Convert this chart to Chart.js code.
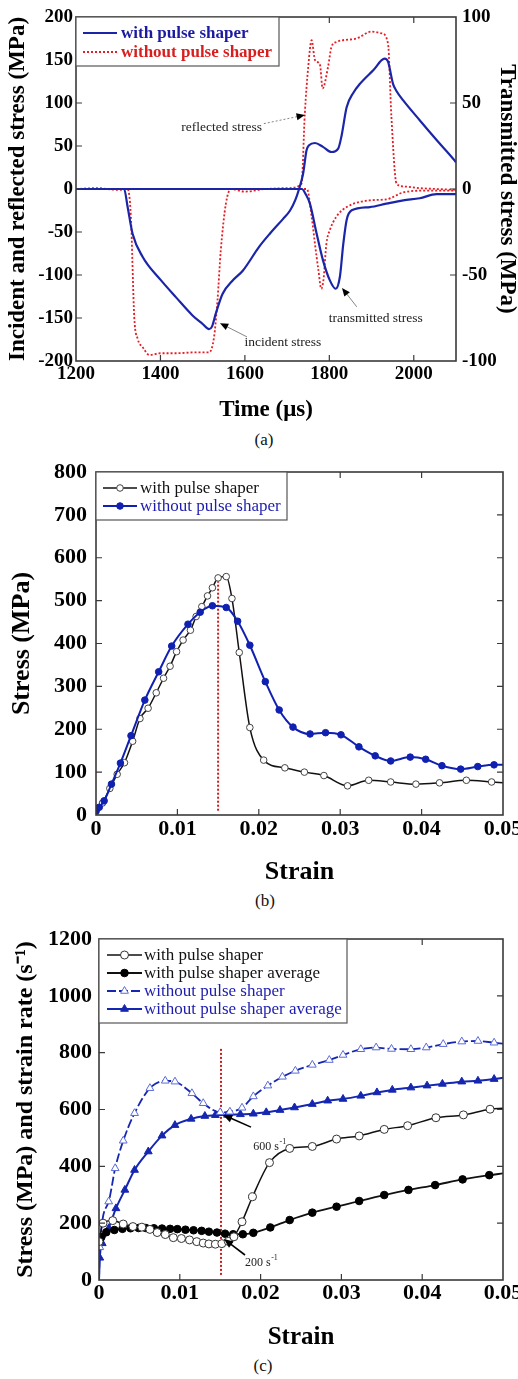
<!DOCTYPE html>
<html lang="en">
<head>
<meta charset="utf-8">
<title>Pulse shaper comparison</title>
<script src="https://cdn.jsdelivr.net/npm/chart.js@4.4.0/dist/chart.umd.min.js"></script>
<style>
  body { margin: 0; background: #fff; width: 518px; height: 1379px; position: relative; overflow: hidden;
         font-family: 'Liberation Serif', 'Times New Roman', serif; }
  .panel { position: absolute; left: 0; }
  .panel canvas { display: block; }
  .caption { position: absolute; width: 40px; line-height: 20px; text-align: center; font-size: 17px; color: #111; }
</style>
</head>
<body>
<div class="panel" style="top:0px"><canvas id="chartA" width="518" height="425"></canvas></div>
<div class="caption" style="left:244px; top:430px">(a)</div>
<div class="panel" style="top:450px"><canvas id="chartB" width="518" height="440"></canvas></div>
<div class="caption" style="left:245px; top:891px">(b)</div>
<div class="panel" style="top:910px"><canvas id="chartC" width="518" height="445"></canvas></div>
<div class="caption" style="left:243px; top:1356px">(c)</div>

<script>
// ---------- (a) stress histories ----------
const timeTicks = [1200, 1400, 1600, 1800, 2000];
const stressTicksA = [-200, -150, -100, -50, 0, 50, 100, 150, 200];
const transTicksA = [-100, -50, 0, 50, 100];

// incident + reflected signal (left axis)
const timeWithInc = [1200, 1314, 1322, 1334, 1358, 1401, 1437, 1476, 1500, 1515, 1522, 1531, 1547, 1570, 1595,
  1634, 1659, 1690, 1707, 1720, 1727, 1738, 1746, 1752, 1766, 1785, 1805, 1821, 1829, 1841, 1857, 1872, 1904,
  1931, 1939, 1951, 1959, 1975, 2014, 2054, 2097, 2100];
const stressWithInc = [0, 0, -20, -52, -79, -106, -126, -147, -157, -163, -160, -145, -122, -107, -95,
  -67, -52, -35, -25, -12, -2, 18, 45, 51, 53.5, 49, 43, 47, 62, 95, 112, 122, 138,
  151.5, 148, 122, 114, 103, 80, 57, 33, 31];
const timeWithoutInc = [1200, 1250, 1300, 1322, 1330, 1338, 1346, 1358, 1374, 1400, 1437, 1480, 1515, 1527, 1535,
  1543, 1555, 1567, 1600, 1650, 1700, 1734, 1742, 1750, 1758, 1766, 1778, 1784, 1797, 1805, 1817, 1864, 1900,
  1924, 1939, 1947, 1959, 1975, 2014, 2054, 2100];
const stressWithoutInc = [0, 1, -1, 0, -32, -149, -174, -184, -193, -191, -191, -190, -190, -172, -130,
  -71, -17, 0, -3, 0, 1, 6, 88, 142, 173, 150, 144, 117, 142, 165, 171, 175, 183,
  181, 169, 84, 6.6, 3, 1, 0, -1];

// transmitted signal (right axis)
const timeWithTrans = [1200, 1735, 1744, 1754, 1770, 1785, 1801, 1815, 1825, 1833, 1841, 1853, 1896, 1935, 1975, 2014, 2054, 2100];
const stressWithTrans = [0, 0, -3, -8.5, -26, -41.5, -53, -58, -51, -32, -18, -12.4, -10.5, -8.5, -6.6, -5.4, -3, -3];
const timeWithoutTrans = [1200, 1747, 1758, 1766, 1774, 1781, 1786, 1793, 1801, 1817, 1841, 1896, 1935, 1975, 2014, 2100];
const stressWithoutTrans = [0, 0, -16, -32, -47, -58, -53, -32, -24, -16, -10.5, -6.6, -6, -2, -1, -1];

// ---------- (b) stress-strain ----------
const strainTicks = [0, 0.01, 0.02, 0.03, 0.04, 0.05];
const stressTicksB = [0, 100, 200, 300, 400, 500, 600, 700, 800];
const strainWithB = [0, 0.0008, 0.0017, 0.0026, 0.0035, 0.0045, 0.0054, 0.0064, 0.0074, 0.0083, 0.0091, 0.0099,
  0.0107, 0.0116, 0.0123, 0.013, 0.0137, 0.0143, 0.015, 0.016, 0.0167, 0.0176, 0.0189, 0.0206, 0.0232, 0.0256,
  0.028, 0.0309, 0.0335, 0.0362, 0.0393, 0.0422, 0.0455, 0.0486, 0.05];
const stressWithB = [8, 28, 62, 95, 122, 172, 225, 249, 285, 319, 347, 381,
  408, 431, 463, 486, 511, 530, 553, 556, 505, 379, 204, 128, 110, 100,
  92, 68, 81, 77, 72, 75, 81, 77, 75];
const strainWithoutB = [0, 0.0004, 0.001, 0.0019, 0.003, 0.0043, 0.006, 0.0077, 0.0093, 0.0113, 0.0128, 0.0143,
  0.016, 0.0174, 0.0189, 0.0208, 0.0225, 0.0242, 0.0263, 0.0282, 0.0301, 0.0323, 0.0343, 0.0362, 0.0386,
  0.0405, 0.0425, 0.0448, 0.0469, 0.0489, 0.05];
const stressWithoutB = [10, 18, 33, 72, 121, 185, 268, 334, 394, 445, 473, 488,
  484, 452, 396, 311, 245, 205, 189, 192, 187, 159, 138, 126, 135,
  130, 115, 107, 113, 117, 117];
const peakStrainB = 0.015;
const peakLineB = [10, 545];

// ---------- (c) stress and strain rate ----------
const valueTicksC = [0, 200, 400, 600, 800, 1000, 1200];
const strainWithC = [0, 0.0005, 0.0017, 0.003, 0.0042, 0.0053, 0.0063, 0.0072, 0.0082, 0.0092, 0.0102, 0.0112,
  0.0121, 0.0129, 0.0136, 0.0144, 0.0152, 0.016, 0.0167, 0.0177, 0.019, 0.0211, 0.0236, 0.0264, 0.0294,
  0.0322, 0.0353, 0.0382, 0.0417, 0.0451, 0.0484, 0.05];
const valueWithC = [135, 200, 209, 197, 188, 186, 178, 167, 160, 149, 146, 141,
  135, 130, 127, 126, 128, 136, 152, 205, 293, 413, 463, 470, 496,
  507, 530, 543, 571, 581, 601, 604];
const strainWithAvgC = [0, 0.0003, 0.0009, 0.0019, 0.0029, 0.0039, 0.0049, 0.0058, 0.0068, 0.0078, 0.0088, 0.0097,
  0.0107, 0.0117, 0.0127, 0.0136, 0.0146, 0.0156, 0.0166, 0.0178, 0.0191, 0.0212, 0.0236, 0.0264, 0.0294,
  0.0322, 0.0353, 0.0383, 0.0416, 0.045, 0.0483, 0.05];
const valueWithAvgC = [140, 152, 168, 176, 180, 182, 183, 183, 182, 181, 180, 179,
  177, 175, 173, 170, 167, 163, 161, 161, 166, 185, 211, 237, 258,
  278, 299, 317, 334, 354, 369, 375];
const strainWithoutC = [0, 0.0001, 0.0012, 0.002, 0.003, 0.0044, 0.0063, 0.0082, 0.0094, 0.0115, 0.0129, 0.015,
  0.0162, 0.0177, 0.0191, 0.0209, 0.0227, 0.0243, 0.0264, 0.0285, 0.0302, 0.0324, 0.0343, 0.0362, 0.0386,
  0.0405, 0.0426, 0.0449, 0.0469, 0.0489, 0.05];
const valueWithoutC = [0, 115, 276, 393, 490, 587, 675, 701, 698, 657, 622, 590,
  592, 606, 646, 684, 715, 736, 757, 774, 792, 812, 818, 813, 812,
  818, 830, 839, 841, 835, 832];
const strainWithoutAvgC = [0, 0.0001, 0.0004, 0.0012, 0.0021, 0.0032, 0.0044, 0.0061, 0.0078, 0.0094, 0.0114, 0.0131,
  0.0144, 0.0159, 0.0175, 0.0191, 0.0207, 0.0224, 0.0242, 0.0264, 0.0283, 0.0302, 0.0324, 0.0344, 0.0363,
  0.0386, 0.0406, 0.0425, 0.0449, 0.0469, 0.0489, 0.05];
const valueWithoutAvgC = [0, 78, 129, 182, 252, 317, 387, 452, 508, 545, 567, 577,
  580, 581, 583, 585, 590, 598, 607, 619, 631, 637, 648, 660, 669,
  677, 684, 690, 698, 701, 707, 712];
const peakStrainC = 0.0151;
const peakLineC = [18, 815];

// ---------- helpers ----------
const SERIF = "'Liberation Serif', 'Times New Roman', serif";
const BLUE = '#1b25a8';
const RED = '#e81c24';
const BLACK = '#111';

function pts(xs, ys) { return xs.map((x, i) => ({x: x, y: ys[i]})); }

// hide the marker where a series is cut by the frame
const markAt = r => c => (c.raw && (c.raw.x >= 0.05 || (c.raw.x === 0 && c.raw.y === 0))) ? 0 : r;

function axis(o) {
  const horiz = o.position === 'bottom';
  return {
    type: 'linear', position: o.position, min: o.min, max: o.max,
    afterBuildTicks: s => { s.ticks = o.ticks.map(v => ({value: v})); },
    afterFit: s => {
      if (horiz) { s.height = o.size; s.paddingLeft = 0; s.paddingRight = 0; }
      else { s.width = o.size; s.paddingTop = 0; s.paddingBottom = 0; }
    },
    grid: {display: false, drawTicks: false},
    border: {display: false},
    ticks: {font: {family: SERIF, size: o.tickSize, weight: 'bold'}, color: '#000', padding: o.pad,
            autoSkip: false, maxRotation: 0, callback: v => String(v)},
    title: {display: true, text: o.title, color: '#000',
            font: {family: SERIF, size: o.titleSize, weight: 'bold', lineHeight: 1}, padding: o.titlePad}
  };
}

function markLine(x, ys) {
  return {label: '', data: [{x: x, y: ys[0]}, {x: x, y: ys[1]}], showLine: true, pointRadius: 0,
          borderColor: '#d01818', borderWidth: 2, borderDash: [2, 2]};
}

// frame with inward tick marks on all four sides
const frameTicks = {
  id: 'frameTicks',
  afterDatasetsDraw(chart, args, opts) {
    const {ctx, chartArea: a, scales} = chart;
    const len = 6;
    ctx.save();
    ctx.strokeStyle = '#3a3a3a';
    ctx.lineWidth = 1.2;
    ctx.beginPath();
    scales.x.ticks.forEach(t => {
      const px = scales.x.getPixelForValue(t.value);
      if (px <= a.left + 1 || px >= a.right - 1) return;
      ctx.moveTo(px, a.bottom); ctx.lineTo(px, a.bottom - len);
      ctx.moveTo(px, a.top); ctx.lineTo(px, a.top + len);
    });
    const rs = scales[opts.right || 'y'];
    scales.y.ticks.forEach(t => {
      const py = scales.y.getPixelForValue(t.value);
      if (py <= a.top + 1 || py >= a.bottom - 1) return;
      ctx.moveTo(a.left, py); ctx.lineTo(a.left + len, py);
    });
    rs.ticks.forEach(t => {
      const py = rs.getPixelForValue(t.value);
      if (py <= a.top + 1 || py >= a.bottom - 1) return;
      ctx.moveTo(a.right, py); ctx.lineTo(a.right - len, py);
    });
    ctx.stroke();
    ctx.lineWidth = 1.6;
    ctx.strokeRect(a.left, a.top, a.right - a.left, a.bottom - a.top);
    ctx.restore();
  }
};

function drawMark(ctx, style, r, x, y) {
  ctx.beginPath();
  if (style === 'triangle') {
    ctx.moveTo(x, y - r);
    ctx.lineTo(x + r * 0.866, y + r * 0.5);
    ctx.lineTo(x - r * 0.866, y + r * 0.5);
    ctx.closePath();
  } else {
    ctx.arc(x, y, r, 0, Math.PI * 2);
  }
  ctx.fill();
  ctx.stroke();
}

// boxed legend inside the plot, labels taken from the datasets
const boxLegend = {
  id: 'boxLegend',
  afterDraw(chart, args, o) {
    const ctx = chart.ctx;
    ctx.save();
    ctx.fillStyle = '#fff';
    ctx.fillRect(o.left, o.top, o.width, o.height);
    ctx.strokeStyle = '#555';
    ctx.lineWidth = 1.2;
    ctx.strokeRect(o.left, o.top, o.width, o.height);
    o.rows.forEach((row, i) => {
      const ds = chart.data.datasets[row.ds];
      const y = o.firstY + i * o.rowGap;
      ctx.setLineDash(ds.borderDash || []);
      ctx.strokeStyle = ds.borderColor;
      ctx.lineWidth = ds.borderWidth;
      ctx.beginPath(); ctx.moveTo(o.x0, y); ctx.lineTo(o.x1, y); ctx.stroke();
      ctx.setLineDash([]);
      if (row.marker) {
        ctx.fillStyle = ds.pointBackgroundColor;
        ctx.strokeStyle = ds.pointBorderColor;
        ctx.lineWidth = ds.pointBorderWidth;
        drawMark(ctx, ds.pointStyle, row.marker, (o.x0 + o.x1) / 2, y);
      }
      ctx.fillStyle = row.color;
      ctx.font = o.font;
      ctx.textAlign = 'left';
      ctx.textBaseline = 'middle';
      ctx.fillText(ds.label, o.textX, y + 1);
    });
    ctx.restore();
  }
};

// arrows and text notes placed in data coordinates
const notes = {
  id: 'notes',
  afterDraw(chart, args, o) {
    const {ctx, scales} = chart;
    ctx.save();
    (o.arrows || []).forEach(a => {
      const x0 = scales.x.getPixelForValue(a.from[0]), y0 = scales.y.getPixelForValue(a.from[1]);
      const x1 = scales.x.getPixelForValue(a.to[0]), y1 = scales.y.getPixelForValue(a.to[1]);
      const ang = Math.atan2(y1 - y0, x1 - x0);
      const h = a.head;
      ctx.strokeStyle = a.color;
      ctx.lineWidth = a.width;
      ctx.setLineDash(a.dash || []);
      ctx.beginPath();
      ctx.moveTo(x0, y0);
      ctx.lineTo(x1 - Math.cos(ang) * h * 0.8, y1 - Math.sin(ang) * h * 0.8);
      ctx.stroke();
      ctx.setLineDash([]);
      ctx.fillStyle = '#000';
      ctx.beginPath();
      ctx.moveTo(x1, y1);
      ctx.lineTo(x1 - Math.cos(ang - 0.4) * h, y1 - Math.sin(ang - 0.4) * h);
      ctx.lineTo(x1 - Math.cos(ang + 0.4) * h, y1 - Math.sin(ang + 0.4) * h);
      ctx.closePath();
      ctx.fill();
    });
    (o.labels || []).forEach(l => {
      const x = scales.x.getPixelForValue(l.at[0]), y = scales.y.getPixelForValue(l.at[1]);
      ctx.fillStyle = l.color || '#222';
      ctx.font = l.font;
      ctx.textAlign = l.align || 'center';
      ctx.textBaseline = 'middle';
      ctx.fillText(l.text, x, y);
      if (l.sup) {
        const w = ctx.measureText(l.text).width;
        ctx.font = l.supFont;
        ctx.textAlign = 'left';
        ctx.fillText(l.sup, x + w + 0.5, y - 5);
      }
    });
    ctx.restore();
  }
};

const common = {responsive: false, animation: false, events: []};

// ---------- chart (a) ----------
new Chart(document.getElementById('chartA'), {
  type: 'scatter',
  data: {
    datasets: [
      {label: 'with pulse shaper', data: pts(timeWithInc, stressWithInc), yAxisID: 'y'},
      {label: 'with pulse shaper', data: pts(timeWithTrans, stressWithTrans), yAxisID: 'y1'},
      {label: 'without pulse shaper', data: pts(timeWithoutInc, stressWithoutInc), yAxisID: 'y'},
      {label: 'without pulse shaper', data: pts(timeWithoutTrans, stressWithoutTrans), yAxisID: 'y1'}
    ].map((d, i) => Object.assign(d, {
      showLine: true, pointRadius: 0, cubicInterpolationMode: 'monotone',
      borderColor: i < 2 ? BLUE : RED, borderWidth: i < 2 ? 2.2 : 1.8,
      borderDash: i < 2 ? [] : [2, 2]
    }))
  },
  options: Object.assign({}, common, {
    layout: {padding: {top: 17, left: 0, right: 0, bottom: 0}},
    scales: {
      x: axis({position: 'bottom', min: 1200, max: 2100, ticks: timeTicks, size: 64, tickSize: 19, pad: 2,
               title: 'Time (\u03bcs)', titleSize: 23, titlePad: {top: 0, bottom: 3}}),
      y: axis({position: 'left', min: -200, max: 200, ticks: stressTicksA, size: 76, tickSize: 19, pad: 3,
               title: 'Incident and reflected stress (MPa)', titleSize: 23, titlePad: {top: 7, bottom: 0}}),
      y1: axis({position: 'right', min: -100, max: 100, ticks: transTicksA, size: 62, tickSize: 19, pad: 6,
                title: 'Transmitted stress (MPa)', titleSize: 23, titlePad: {top: 0, bottom: 0}})
    },
    plugins: {
      legend: {display: false}, tooltip: {enabled: false},
      frameTicks: {right: 'y1'},
      boxLegend: {left: 76, top: 17, width: 203, height: 49, x0: 83, x1: 117, textX: 121, firstY: 33, rowGap: 19,
                  font: 'bold 17px ' + SERIF,
                  rows: [{ds: 0, color: '#1b1ba0', marker: 0}, {ds: 2, color: '#d81e1e', marker: 0}]},
      notes: {
        arrows: [
          {from: [1645, 76], to: [1742, 86], dash: [2, 2], color: '#777', width: 0.9, head: 9},
          {from: [1605, -172], to: [1541, -156], color: '#777', width: 0.9, head: 9},
          {from: [1865, -137], to: [1830, -115], color: '#777', width: 0.9, head: 9}
        ],
        labels: [
          {text: 'reflected stress', at: [1545, 72], font: '13.5px ' + SERIF},
          {text: 'incident stress', at: [1690, -179], font: '13.5px ' + SERIF},
          {text: 'transmitted stress', at: [1910, -151], font: '13.5px ' + SERIF}
        ]
      }
    }
  }),
  plugins: [frameTicks, boxLegend, notes]
});

// ---------- chart (b) ----------
new Chart(document.getElementById('chartB'), {
  type: 'scatter',
  data: {
    datasets: [
      {label: 'without pulse shaper', data: pts(strainWithoutB, stressWithoutB), showLine: true,
       borderColor: '#1020b0', borderWidth: 2, cubicInterpolationMode: 'monotone',
       pointStyle: 'circle', pointRadius: markAt(3.3), pointBackgroundColor: '#1020b0',
       pointBorderColor: '#1020b0', pointBorderWidth: 1},
      {label: 'with pulse shaper', data: pts(strainWithB, stressWithB), showLine: true,
       borderColor: BLACK, borderWidth: 1.5, cubicInterpolationMode: 'monotone',
       pointStyle: 'circle', pointRadius: markAt(3.3), pointBackgroundColor: '#fff',
       pointBorderColor: '#444', pointBorderWidth: 1},
      markLine(peakStrainB, peakLineB)
    ]
  },
  options: Object.assign({}, common, {
    layout: {padding: {top: 22, left: 0, right: 15, bottom: 0}},
    scales: {
      x: axis({position: 'bottom', min: 0, max: 0.05, ticks: strainTicks, size: 75, tickSize: 22, pad: 1,
               title: 'Strain', titleSize: 26, titlePad: {top: 0, bottom: 5}}),
      y: axis({position: 'left', min: 0, max: 800, ticks: stressTicksB, size: 96, tickSize: 22, pad: 9,
               title: 'Stress (MPa)', titleSize: 26, titlePad: {top: 9, bottom: 0}})
    },
    plugins: {
      legend: {display: false}, tooltip: {enabled: false},
      frameTicks: {},
      boxLegend: {left: 96, top: 22, width: 191, height: 48, x0: 103, x1: 137, textX: 140, firstY: 38, rowGap: 18,
                  font: '17px ' + SERIF,
                  rows: [{ds: 1, color: '#111', marker: 3.3}, {ds: 0, color: '#1c1cb0', marker: 3.3}]},
      notes: {}
    }
  }),
  plugins: [frameTicks, boxLegend, notes]
});

// ---------- chart (c) ----------
new Chart(document.getElementById('chartC'), {
  type: 'scatter',
  data: {
    datasets: [
      {label: 'with pulse shaper', data: pts(strainWithC, valueWithC), showLine: true,
       borderColor: BLACK, borderWidth: 1.5, cubicInterpolationMode: 'monotone',
       pointStyle: 'circle', pointRadius: markAt(4), pointBackgroundColor: '#fff',
       pointBorderColor: '#333', pointBorderWidth: 1},
      {label: 'with pulse shaper average', data: pts(strainWithAvgC, valueWithAvgC), showLine: true,
       borderColor: BLACK, borderWidth: 1.8, cubicInterpolationMode: 'monotone',
       pointStyle: 'circle', pointRadius: markAt(3.8), pointBackgroundColor: '#000',
       pointBorderColor: '#000', pointBorderWidth: 1},
      {label: 'without pulse shaper', data: pts(strainWithoutC, valueWithoutC), showLine: true,
       borderColor: '#1526b0', borderWidth: 1.8, borderDash: [9, 3], cubicInterpolationMode: 'monotone',
       pointStyle: 'triangle', pointRadius: markAt(4.5), pointBackgroundColor: '#fff',
       pointBorderColor: '#5c6cd8', pointBorderWidth: 1},
      {label: 'without pulse shaper average', data: pts(strainWithoutAvgC, valueWithoutAvgC), showLine: true,
       borderColor: '#1526b0', borderWidth: 2, cubicInterpolationMode: 'monotone',
       pointStyle: 'triangle', pointRadius: markAt(4.5), pointBackgroundColor: '#1526b0',
       pointBorderColor: '#1526b0', pointBorderWidth: 1},
      markLine(peakStrainC, peakLineC)
    ]
  },
  options: Object.assign({}, common, {
    layout: {padding: {top: 29, left: 0, right: 15, bottom: 0}},
    scales: {
      x: axis({position: 'bottom', min: 0, max: 0.05, ticks: strainTicks, size: 75, tickSize: 22, pad: 0,
               title: 'Strain', titleSize: 25, titlePad: {top: 0, bottom: 5}}),
      y: axis({position: 'left', min: 0, max: 1200, ticks: valueTicksC, size: 99, tickSize: 22, pad: 7,
               title: 'Stress (MPa) and strain rate (s\u207b\u00b9)', titleSize: 24, titlePad: {top: 14, bottom: 0}})
    },
    plugins: {
      legend: {display: false}, tooltip: {enabled: false},
      frameTicks: {},
      boxLegend: {left: 99, top: 29, width: 248, height: 84, x0: 107, x1: 142, textX: 144, firstY: 45, rowGap: 18,
                  font: '17px ' + SERIF,
                  rows: [{ds: 0, color: '#111', marker: 4}, {ds: 1, color: '#111', marker: 3.8},
                         {ds: 2, color: '#1c1cb0', marker: 4.5}, {ds: 3, color: '#1c1cb0', marker: 4.5}]},
      notes: {
        arrows: [
          {from: [0.01881, 538], to: [0.01535, 581], color: '#000', width: 1.6, head: 10},
          {from: [0.01807, 88], to: [0.01547, 144], color: '#000', width: 1.6, head: 10}
        ],
        labels: [
          {text: '600 s', sup: '-1', at: [0.0191, 468], align: 'left', font: '12px ' + SERIF, supFont: '8px ' + SERIF},
          {text: '200 s', sup: '-1', at: [0.01807, 60], align: 'left', font: '12px ' + SERIF, supFont: '8px ' + SERIF}
        ]
      }
    }
  }),
  plugins: [frameTicks, boxLegend, notes]
});
</script>
</body>
</html>
